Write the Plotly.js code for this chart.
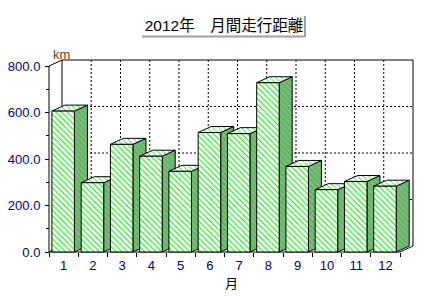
<!DOCTYPE html>
<html><head><meta charset="utf-8">
<script src="https://cdn.plot.ly/plotly-3.0.1.min.js"></script>
<style>html,body{margin:0;padding:0;background:#fff}#chart{width:425px;height:300px}</style>
</head><body><div id="chart"></div>
<script>
// ---- data ----
const months = [1, 2, 3, 4, 5, 6, 7, 8, 9, 10, 11, 12];
const monthLabels = ['1', '2', '3', '4', '5', '6', '7', '8', '9', '10', '11', '12'];
const distances = [606, 298, 463, 412, 347, 514, 509, 728, 368, 268, 303, 283];
const yTickVals = [0, 200, 400, 600, 800];
const titleText = '2012年　月間走行距離';
const yUnit = 'km';
const xTitle = '月';

// ---- geometry / style ----
const W = 425, H = 300;
const L = 46, R = 8, T = 57, B = 45;
const plotW = W - L - R, plotH = H - T - B;
const PAD = 3;
const pxX = 29.25, pxY = 0.2325;
const xStart = months[0] - 0.5, xEnd = months[months.length - 1] + 0.5;
const yTop = yTickVals[yTickVals.length - 1];
const xRange = [xStart - PAD / pxX, xStart + (plotW - PAD) / pxX];
const yRange = [-PAD / pxY, (plotH - PAD) / pxY];
const DX = 13 / pxX, DY = 6 / pxY;
const BL = 0.4, BR = 0.37;
const GREEN = '#00ee00';
const FRONT_BG = '#ffffff', SIDE_BG = '#a0a0a0', TOP_BG = '#ffffff';

function face(xs, ys, bg, sol) {
  return {
    type: 'scatter', mode: 'lines', x: xs, y: ys, fill: 'toself',
    fillcolor: bg,
    fillpattern: {shape: '\\', fgcolor: GREEN, bgcolor: bg, size: 4, solidity: sol},
    line: {color: '#000', width: 1}, hoverinfo: 'skip', showlegend: false
  };
}

const traces = [];
months.forEach((m, i) => {
  const v = distances[i];
  const x0 = m - BL, x1 = m + BR;
  traces.push(face([x1, x1, x1 + DX, x1 + DX, x1], [0, v, v + DY, DY, 0], SIDE_BG, 0.3));
  traces.push(face([x0, x1, x1 + DX, x0 + DX, x0], [v, v, v + DY, v + DY, v], TOP_BG, 0.22));
  traces.push(face([x0, x1, x1, x0, x0], [0, 0, v, v, 0], FRONT_BG, 0.26));
});

const shapes = [];
function ln(x0, y0, x1, y1, dash) {
  shapes.push({type: 'line', xref: 'x', yref: 'y', x0, y0, x1, y1, layer: 'below',
    line: {color: '#000', width: 1, dash: dash || 'solid'}});
}
// back wall grid
yTickVals.slice(1, -1).forEach(v => ln(xStart + DX, v + DY, xEnd + DX, v + DY, '2px,2px'));
months.slice(0, -1).forEach(m => ln(m + 0.5 + DX, DY, m + 0.5 + DX, yTop + DY, '2px,2px'));
// back wall frame
ln(xStart + DX, DY, xStart + DX, yTop + DY);
ln(xStart + DX, yTop + DY, xEnd + DX, yTop + DY);
ln(xEnd + DX, yTop + DY, xEnd + DX, DY);
// front axes
ln(xStart, 0, xStart, yTop);
ln(xStart, yTop, xStart + DX, yTop + DY);
ln(xStart, 0, xEnd, 0);
ln(xEnd, 0, xEnd + DX, DY);
ln(xStart, 0, xStart + DX, DY);

// title shadow (paper coords from pixels)
const pX = px => (px - L) / plotW;
const pY = py => (H - B - py) / plotH;
shapes.push({type: 'line', xref: 'paper', yref: 'paper', x0: pX(305), x1: pX(305), y0: pY(16), y1: pY(37), line: {color: '#a0a0a0', width: 2}});
shapes.push({type: 'line', xref: 'paper', yref: 'paper', x0: pX(142), x1: pX(306), y0: pY(36.5), y1: pY(36.5), line: {color: '#a0a0a0', width: 2}});

const tickFont = {family: 'Liberation Sans, Arial, sans-serif', size: 13, color: '#000080'};

const layout = {
  width: W, height: H,
  margin: {l: L, r: R, t: T, b: B},
  paper_bgcolor: '#fff', plot_bgcolor: 'rgba(0,0,0,0)',
  showlegend: false,
  title: {text: titleText, xref: 'container', yref: 'container', x: 224 / W, y: 1 - 26 / H,
    xanchor: 'center', yanchor: 'middle',
    font: {family: 'Liberation Sans, Noto Sans CJK JP, sans-serif', size: 15.5, color: '#000'}},
  xaxis: {range: xRange, anchor: 'free', position: PAD / plotH, showgrid: false, zeroline: false, showline: false,
    tickmode: 'array', tickvals: months, ticktext: monthLabels, ticks: '', tickfont: tickFont,
    ticklabelstandoff: 4,
    minor: {tickmode: 'array', tickvals: months.map(m => m - 0.5).concat([xEnd]), ticks: 'outside', ticklen: 4, tickcolor: '#000', tickwidth: 1, showgrid: false},
    title: {text: xTitle, standoff: 4, font: {family: 'Noto Sans CJK JP, sans-serif', size: 13, color: '#000'}},
    fixedrange: true},
  yaxis: {range: yRange, anchor: 'free', position: PAD / plotW, showgrid: false, zeroline: false, showline: false,
    tickmode: 'array', tickvals: yTickVals, tickformat: '.1f', ticks: 'outside', ticklen: 4, tickcolor: '#000',
    tickfont: tickFont, ticklabelstandoff: 2,
    minor: {dtick: 100, tick0: 0, ticks: 'outside', ticklen: 3, tickcolor: '#000', showgrid: false},
    fixedrange: true},
  shapes: shapes,
  annotations: [{text: yUnit, xref: 'paper', yref: 'paper', x: pX(61.5), y: pY(54), showarrow: false,
    xanchor: 'center', yanchor: 'middle', font: {family: 'Liberation Sans, Arial, sans-serif', size: 13, color: '#993300'}}]
};

Plotly.newPlot('chart', traces, layout, {staticPlot: true, displayModeBar: false});
</script></body></html>
